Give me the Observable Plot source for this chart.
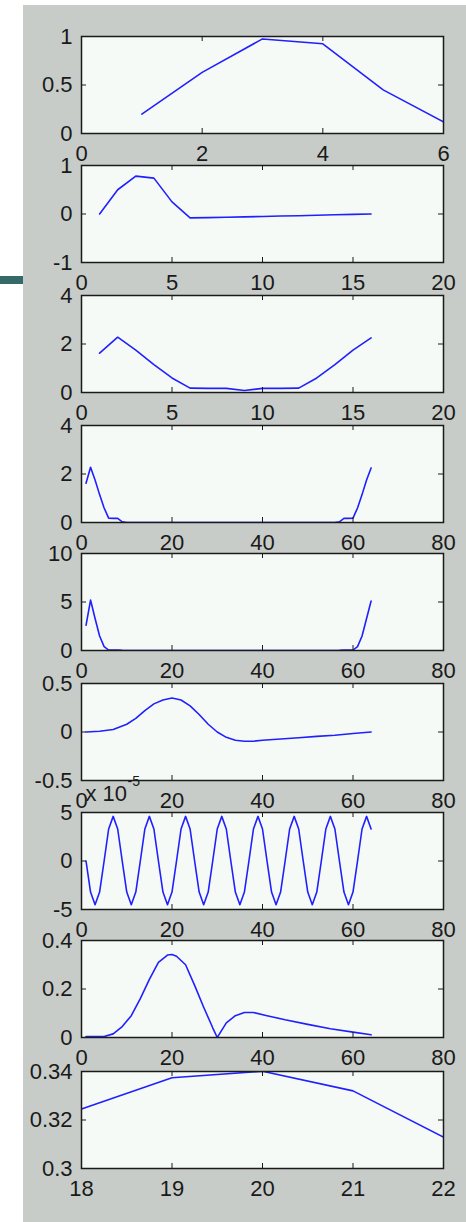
<!DOCTYPE html>
<html><head><meta charset="utf-8">
<script src="https://cdn.jsdelivr.net/npm/d3@7"></script>
<script src="https://cdn.jsdelivr.net/npm/@observablehq/plot@0.6"></script>
<style>
html,body{margin:0;padding:0;background:#fff;}
#page{position:relative;width:466px;height:1222px;overflow:hidden;background:#fff;}
#gray{position:absolute;left:23px;top:5px;width:443px;height:1217px;background:#c8ccc8;}
#bar{position:absolute;left:0;top:276px;width:23px;height:8px;background:#346a67;}
.panel{position:absolute;left:0;}
</style></head><body>
<div id="page"><div id="gray"></div><div id="bar"></div></div>
<script>
// ---- data ----
const p1x = [1, 2, 3, 4, 5, 6];
const p1y = [0.2, 0.63, 0.975, 0.925, 0.45, 0.12];

const p2x = [1,2,3,4,5,6,7,8,9,10,11,12,13,14,15,16];
const p2y = [0, 0.5, 0.78, 0.74, 0.25, -0.08, -0.075, -0.068, -0.06, -0.05, -0.042, -0.035, -0.025, -0.015, -0.008, 0];

const p3x = [1,2,3,4,5,6,7,8,9,10,11,12,13,14,15,16];
const p3y = [1.62, 2.28, 1.75, 1.15, 0.6, 0.18, 0.17, 0.17, 0.08, 0.17, 0.17, 0.18, 0.6, 1.15, 1.75, 2.25];

// 64 samples (x = 1..64)
const p4y = [1.62, 2.28, 1.75, 1.15, 0.6, 0.18, 0.17, 0.17, 0.03,
  0,0,0,0,0,0,0,0,0,0, 0,0,0,0,0,0,0,0,0,0, 0,0,0,0,0,0,0,0,0,0, 0,0,0,0,0,0,0,0,0,0, 0,0,0,0,0,0,0,
  0.03, 0.17, 0.17, 0.18, 0.6, 1.15, 1.75, 2.25];

const p5y = [2.6, 5.2, 3.3, 1.5, 0.4, 0.05, 0.04, 0.04, 0.01,
  0,0,0,0,0,0,0,0,0,0, 0,0,0,0,0,0,0,0,0,0, 0,0,0,0,0,0,0,0,0,0, 0,0,0,0,0,0,0,0,0,0, 0,0,0,0,0,0,0,
  0.01, 0.04, 0.04, 0.05, 0.4, 1.5, 3.3, 5.1];

const p6x = [1, 4, 7, 10, 12, 14, 16, 18, 20, 22, 24, 26, 28, 30, 32, 34, 36, 38, 40, 44, 48, 52, 56, 60, 64];
const p6y = [0, 0.008, 0.025, 0.08, 0.14, 0.22, 0.29, 0.33, 0.35, 0.33, 0.27, 0.18, 0.08, 0.0, -0.055, -0.085, -0.095, -0.095, -0.085, -0.072, -0.06, -0.045, -0.033, -0.015, 0];

// values in units of 1e-5 (x = 1..64)
const p7yE5 = [
  0, -3.2, -4.5, -3.2, 0, 3.3, 4.6, 3.3,
  0, -3.2, -4.5, -3.2, 0, 3.3, 4.6, 3.3,
  0, -3.2, -4.5, -3.2, 0, 3.3, 4.6, 3.3,
  0, -3.2, -4.5, -3.2, 0, 3.3, 4.6, 3.3,
  0, -3.2, -4.5, -3.2, 0, 3.3, 4.6, 3.3,
  0, -3.2, -4.5, -3.2, 0, 3.3, 4.6, 3.3,
  0, -3.2, -4.5, -3.2, 0, 3.3, 4.6, 3.3,
  0, -3.2, -4.5, -3.2, 0, 3.3, 4.6, 3.3];

const p8x = [1, 5, 7, 9, 11, 13, 15, 17, 19, 20, 21, 23, 25, 27, 29, 30, 32, 34, 36, 38, 41, 45, 50, 55, 60, 64];
const p8y = [0.004, 0.004, 0.015, 0.045, 0.09, 0.16, 0.24, 0.31, 0.34, 0.342, 0.335, 0.3, 0.215, 0.125, 0.04, 0.0, 0.06, 0.09, 0.103, 0.103, 0.09, 0.073, 0.054, 0.036, 0.022, 0.011];

const p9x = [18, 19, 20, 21, 22];
const p9y = [0.3245, 0.3374, 0.3401, 0.332, 0.3129];

// tick values
const xt6 = [0, 2, 4, 6];
const xt20 = [0, 5, 10, 15, 20];
const xt80 = [0, 20, 40, 60, 80];
const xt9 = [18, 19, 20, 21, 22];
const yt1 = [0, 0.5, 1];
const yt2 = [-1, 0, 1];
const yt3 = [0, 2, 4];
const yt5 = [0, 5, 10];
const yt6 = [-0.5, 0, 0.5];
const yt7 = [-5, 0, 5];
const yt8 = [0, 0.2, 0.4];
const yt9 = [0.3, 0.32, 0.34];

const idx64 = v => v.map((_, i) => i + 1);

const panels = [
  {x: p1x, y: p1y, xd: [0, 6], yd: [0, 1], xt: xt6, yt: yt1},
  {x: p2x, y: p2y, xd: [0, 20], yd: [-1, 1], xt: xt20, yt: yt2},
  {x: p3x, y: p3y, xd: [0, 20], yd: [0, 4], xt: xt20, yt: yt3},
  {x: idx64(p4y), y: p4y, xd: [0, 80], yd: [0, 4], xt: xt80, yt: yt3},
  {x: idx64(p5y), y: p5y, xd: [0, 80], yd: [0, 10], xt: xt80, yt: yt5},
  {x: p6x, y: p6y, xd: [0, 80], yd: [-0.5, 0.5], xt: xt80, yt: yt6},
  {x: idx64(p7yE5), y: p7yE5, xd: [0, 80], yd: [-5, 5], xt: xt80, yt: yt7, exp: true},
  {x: p8x, y: p8y, xd: [0, 80], yd: [0, 0.4], xt: xt80, yt: yt8},
  {x: p9x, y: p9y, xd: [18, 22], yd: [0.3, 0.34], xt: xt9, yt: yt9}
];

// ---- layout ----
const frameTops = [36, 165, 295, 425, 553, 683, 812, 940, 1071];
const FH = 97, MT = 40, MB = 40, ML = 81, MR = 23, W = 466;
const FW = W - ML - MR;
const INK = "#1a1a1a";
const FONT = "'Liberation Sans', Arial, Helvetica, sans-serif";

const page = document.getElementById("page");
panels.forEach((p, k) => {
  const data = p.x.map((x, i) => ({x, y: p.y[i]}));
  const marks = [
    Plot.frame({fill: "#f6faf6", stroke: "none"}),
    Plot.line(data, {x: "x", y: "y", stroke: "#2020ff", strokeWidth: 1.6, clip: true}),
    Plot.ruleX(p.xt, {x: d => d, insetTop: FH - 5, stroke: INK}),
    Plot.ruleX(p.xt, {x: d => d, insetBottom: FH - 5, stroke: INK}),
    Plot.ruleY(p.yt, {y: d => d, insetRight: FW - 5, stroke: INK}),
    Plot.ruleY(p.yt, {y: d => d, insetLeft: FW - 5, stroke: INK}),
    Plot.frame({stroke: INK, strokeWidth: 1.5}),
    Plot.axisX(p.xt, {tickSize: 0, tickPadding: 12, label: null, fontSize: 22, tickFormat: d => String(d)}),
    Plot.axisY(p.yt, {tickSize: 0, tickPadding: 9, label: null, fontSize: 22, tickFormat: d => String(d)})
  ];
  if (p.exp) {
    marks.push(Plot.text(["x 10"], {frameAnchor: "top-left", text: d => d, dx: 4, dy: -19, textAnchor: "start", lineAnchor: "middle", fontSize: 22, fill: INK}));
    marks.push(Plot.text(["-5"], {frameAnchor: "top-left", text: d => d, dx: 46, dy: -31, textAnchor: "start", lineAnchor: "middle", fontSize: 14, fill: INK}));
  }
  const svg = Plot.plot({
    width: W, height: FH + MT + MB,
    marginTop: MT, marginBottom: MB, marginLeft: ML, marginRight: MR,
    x: {domain: p.xd, label: null},
    y: {domain: p.yd, label: null},
    style: {background: "transparent", fontFamily: FONT, fontSize: "22px", color: INK, overflow: "visible"},
    marks
  });
  const div = document.createElement("div");
  div.className = "panel";
  div.style.top = (frameTops[k] - MT) + "px";
  div.appendChild(svg);
  page.appendChild(div);
});
</script>
</body></html>
